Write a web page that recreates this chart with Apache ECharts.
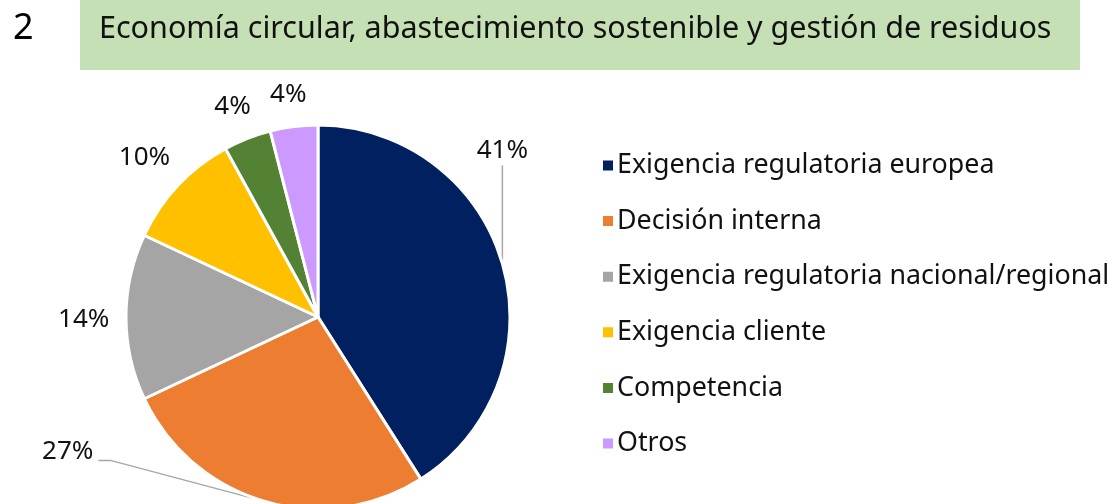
<!DOCTYPE html>
<html>
<head>
<meta charset="utf-8">
<script src="https://cdn.jsdelivr.net/npm/echarts@6/dist/echarts.min.js"></script>
<style>
  html, body { margin: 0; padding: 0; background: #fff; }
  #main { width: 1117px; height: 504px; }
</style>
</head>
<body>
<div id="main"></div>
<script>
var categories = [
  'Exigencia regulatoria europea',
  'Decisión interna',
  'Exigencia regulatoria nacional/regional',
  'Exigencia cliente',
  'Competencia',
  'Otros'
];
var values = [41, 27, 14, 10, 4, 4]; // %
var colors = ['#002060', '#ED7D31', '#A5A5A5', '#FFC000', '#548235', '#CC99FF'];
var withLine = [true, true, false, false, false, false]; // solo 41% y 27% llevan línea

var font = 'Noto Sans';
var pieCenter = [318, 317];
var myChart = echarts.init(document.getElementById('main'));

var data = categories.map(function (name, i) {
  return {
    name: name,
    value: values[i],
    itemStyle: { color: colors[i] },
    labelLine: { lineStyle: { opacity: withLine[i] ? 1 : 0 } }
  };
});

var option = {
  animation: false,
  graphic: [
    {
      type: 'rect',
      shape: { x: 80, y: 0, width: 1000, height: 70 },
      style: { fill: '#C5E0B4' },
      z: 0
    }
  ],
  title: [
    {
      text: '2',
      left: 8,
      top: 6,
      textStyle: { fontFamily: font, fontSize: 36, fontWeight: 'normal', color: '#000' }
    },
    {
      text: 'Economía circular, abastecimiento sostenible y gestión de residuos',
      left: 94,
      top: 9,
      textStyle: { fontFamily: font, fontSize: 30.5, fontWeight: 'normal', color: '#111' }
    }
  ],
  legend: {
    orient: 'vertical',
    left: 596,
    top: 147,
    itemWidth: 12,
    itemHeight: 12,
    itemGap: 28.6,
    icon: 'rect',
    textStyle: { fontFamily: font, fontSize: 26.8, color: '#111', padding: [0, 0, 0, -2] },
    data: categories
  },
  series: [
    {
      type: 'pie',
      center: pieCenter,
      radius: 192,
      startAngle: 90,
      clockwise: true,
      avoidLabelOverlap: false,
      itemStyle: { borderColor: '#fff', borderWidth: 3 },
      label: {
        show: true,
        position: 'outside',
        formatter: '{c}%',
        fontFamily: font,
        fontSize: 26,
        color: '#111'
      },
      labelLine: {
        show: true,
        length: 18,
        length2: 4,
        lineStyle: { color: '#A6A6A6', width: 1.5 }
      },
      labelLayout: function (params) {
        var p = params.labelLinePoints && params.labelLinePoints[0];
        if (!p) return {};
        if (params.dataIndex === 0) {
          return {
            x: p[0], y: p[1] - 113, align: 'center', verticalAlign: 'middle',
            labelLinePoints: [p, [p[0], p[1] - 98], [p[0], p[1] - 98]]
          };
        }
        if (params.dataIndex === 1) {
          return {
            x: p[0] - 171, y: p[1] - 50, align: 'right', verticalAlign: 'middle',
            labelLinePoints: [p, [p[0] - 154, p[1] - 41], [p[0] - 166, p[1] - 41]]
          };
        }
        // resto: etiqueta fuera del borde, sin línea visible
        var ang = Math.atan2(p[1] - pieCenter[1], p[0] - pieCenter[0]) - 3 * Math.PI / 180;
        var dx = Math.cos(ang), dy = Math.sin(ang);
        var w = params.labelRect.width, h = params.labelRect.height;
        var off = 16 + Math.abs(dx) * w / 2 + Math.abs(dy) * h / 2;
        return {
          x: p[0] + dx * off, y: p[1] + dy * off, align: 'center', verticalAlign: 'middle',
          labelLinePoints: [p, p, p]
        };
      },
      emphasis: { disabled: true },
      data: data
    }
  ]
};
myChart.setOption(option);
</script>
</body>
</html>
